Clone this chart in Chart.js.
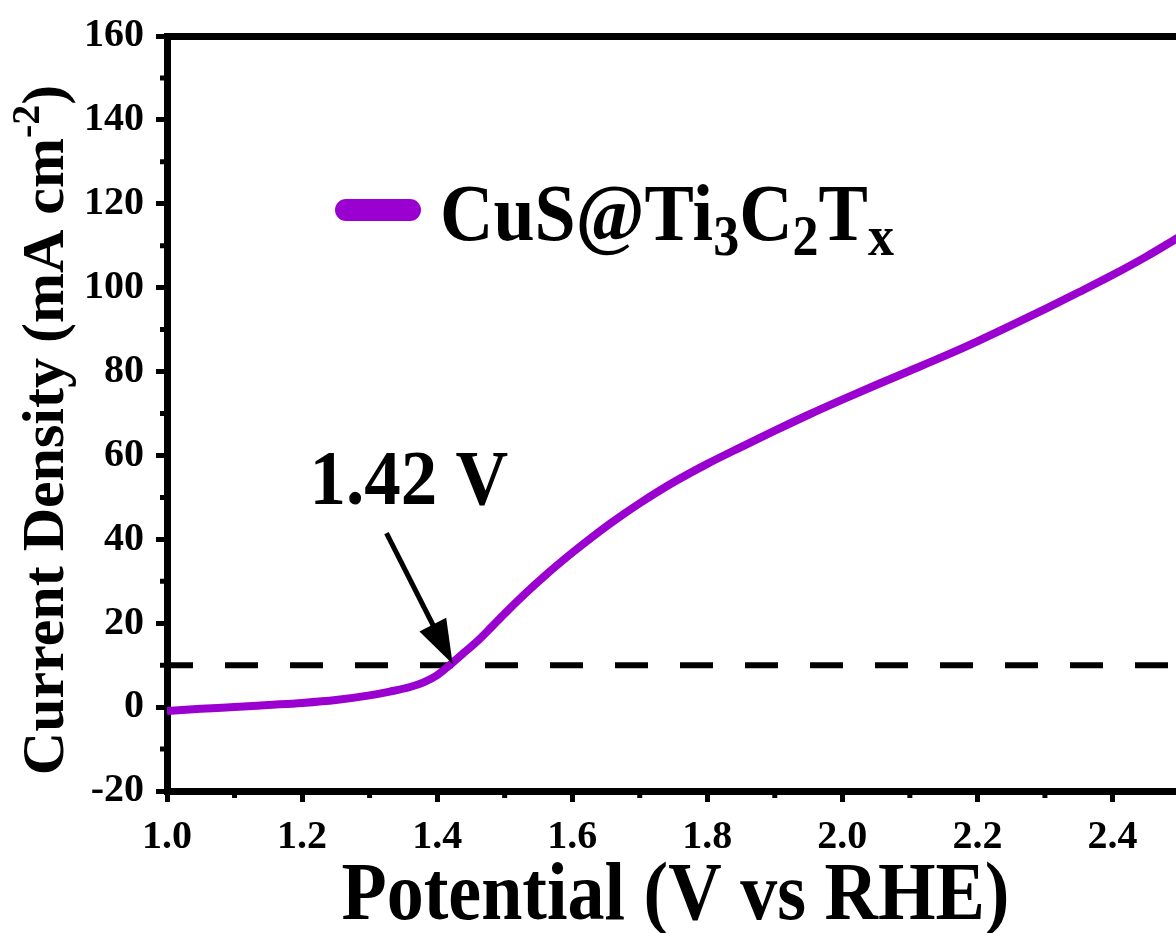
<!DOCTYPE html>
<html>
<head>
<meta charset="utf-8">
<title>CuS@Ti3C2Tx LSV</title>
<script src="https://cdn.jsdelivr.net/npm/chart.js@4.4.0/dist/chart.umd.min.js"></script>
<style>
  html, body { margin: 0; padding: 0; background: #fff; overflow: hidden; }
  #wrap { width: 1200px; height: 933px; }
</style>
</head>
<body>
<div id="wrap"><canvas id="lsvChart" width="1200" height="933"></canvas></div>
<script>
// polarisation curve (V vs RHE / mA cm-2)
const potential = [1.00, 1.05, 1.10, 1.15, 1.20, 1.25, 1.30, 1.33, 1.36, 1.38, 1.40, 1.42, 1.44, 1.46, 1.48, 1.50,
  1.53, 1.56, 1.60, 1.63, 1.66, 1.70, 1.75, 1.80, 1.85, 1.90, 1.95, 2.00, 2.05, 2.10, 2.15, 2.20, 2.25, 2.30,
  2.35, 2.40, 2.45, 2.50];
const currentDensity = [-0.9, -0.4, 0.0, 0.5, 1.0, 1.7, 2.8, 3.7, 4.8, 5.9, 7.6, 10.2, 13.0, 15.8, 19.0, 22.3,
  27.0, 31.4, 36.8, 40.6, 44.2, 48.6, 53.6, 58.0, 62.0, 65.9, 69.7, 73.3, 76.8, 80.2, 83.6, 87.2, 91.0, 94.9,
  98.9, 103.0, 107.4, 112.2];

// 10 mA cm-2 benchmark line
const refPotential = [1.0, 2.5];
const refCurrent = [10, 10];

// onset marker: arrow tail / head and its label
const onsetLabel = '1.42 V';
const arrowTail = [1.325, 41.5];
const arrowHead = [1.423, 10.3];
const labelAt = [1.358, 48.5];

const xTickValues = [1.0, 1.2, 1.4, 1.6, 1.8, 2.0, 2.2, 2.4];
const xMinorValues = [1.1, 1.3, 1.5, 1.7, 1.9, 2.1, 2.3, 2.5];
const yTickValues = [-20, 0, 20, 40, 60, 80, 100, 120, 140, 160];
const yMinorValues = [-10, 10, 30, 50, 70, 90, 110, 130, 150];

const seriesName = 'CuS@Ti3C2Tx';
const curveColor = '#9a00d0';
const SERIF = "'Liberation Serif', 'Times New Roman', serif";

// draws a run of text pieces (sub/superscripts via dy), stretched vertically by sy
const drawRich = (ctx, parts, x, y, sy = 1) => {
  ctx.save();
  ctx.translate(x, y);
  ctx.scale(1, sy);
  let cx = 0;
  parts.forEach(p => {
    ctx.font = `bold ${p.size}px ${SERIF}`;
    ctx.fillText(p.t, cx, p.dy || 0);
    cx += ctx.measureText(p.t).width;
  });
  ctx.restore();
};
const richWidth = (ctx, parts) => parts.reduce((w, p) => {
  ctx.font = `bold ${p.size}px ${SERIF}`;
  return w + ctx.measureText(p.t).width;
}, 0);

const decorPlugin = {
  id: 'decor',
  afterDatasetsDraw(chart) {
    const { ctx, chartArea, scales: { x, y } } = chart;
    ctx.save();
    // minor ticks
    ctx.strokeStyle = '#000';
    ctx.lineWidth = 5;
    ctx.beginPath();
    xMinorValues.forEach(v => {
      const px = x.getPixelForValue(v);
      ctx.moveTo(px, chartArea.bottom);
      ctx.lineTo(px, chartArea.bottom + 7);
    });
    yMinorValues.forEach(v => {
      const py = y.getPixelForValue(v);
      ctx.moveTo(chartArea.left, py);
      ctx.lineTo(chartArea.left - 7, py);
    });
    ctx.stroke();

    // arrow pointing at the onset
    const x0 = x.getPixelForValue(arrowTail[0]), y0 = y.getPixelForValue(arrowTail[1]);
    const x1 = x.getPixelForValue(arrowHead[0]), y1 = y.getPixelForValue(arrowHead[1]);
    const ang = Math.atan2(y1 - y0, x1 - x0);
    const headLen = 44, headW = 15;
    ctx.lineWidth = 5;
    ctx.beginPath();
    ctx.moveTo(x0, y0);
    ctx.lineTo(x1 - Math.cos(ang) * headLen * 0.8, y1 - Math.sin(ang) * headLen * 0.8);
    ctx.stroke();
    ctx.fillStyle = '#000';
    ctx.beginPath();
    ctx.moveTo(x1, y1);
    ctx.lineTo(x1 - Math.cos(ang) * headLen + Math.sin(ang) * headW, y1 - Math.sin(ang) * headLen - Math.cos(ang) * headW);
    ctx.lineTo(x1 - Math.cos(ang) * headLen - Math.sin(ang) * headW, y1 - Math.sin(ang) * headLen + Math.cos(ang) * headW);
    ctx.closePath();
    ctx.fill();

    ctx.textBaseline = 'alphabetic';
    ctx.textAlign = 'left';
    const lblParts = [{ t: onsetLabel, size: 73 }];
    drawRich(ctx, lblParts, x.getPixelForValue(labelAt[0]) - richWidth(ctx, lblParts) / 2,
      y.getPixelForValue(labelAt[1]), 1.06);

    // legend
    ctx.strokeStyle = curveColor;
    ctx.lineCap = 'round';
    ctx.lineWidth = 22;
    ctx.beginPath();
    ctx.moveTo(346, 210);
    ctx.lineTo(410, 210);
    ctx.stroke();
    drawRich(ctx, [
      { t: 'CuS@Ti', size: 74 }, { t: '3', size: 52, dy: 14 },
      { t: 'C', size: 74 }, { t: '2', size: 52, dy: 14 },
      { t: 'T', size: 74 }, { t: 'x', size: 52, dy: 14 }
    ], 440, 240, 1.1);

    // axis titles
    const xParts = [{ t: 'Potential (V vs RHE)', size: 74 }];
    drawRich(ctx, xParts, (chartArea.left + chartArea.right) / 2 + 2 - richWidth(ctx, xParts) / 2, 919, 1.12);

    const yParts = [
      { t: 'Current Density (mA cm', size: 60 }, { t: '-2', size: 40, dy: -24 }, { t: ')', size: 60 }
    ];
    ctx.translate(63, 430);
    ctx.rotate(-Math.PI / 2);
    drawRich(ctx, yParts, -richWidth(ctx, yParts) / 2, 0);
    ctx.restore();
  }
};

const tickFont = { family: SERIF, size: 40, weight: 'bold' };

new Chart(document.getElementById('lsvChart'), {
  type: 'line',
  data: {
    datasets: [{
      label: seriesName,
      data: potential.map((v, i) => ({ x: v, y: currentDensity[i] })),
      borderColor: curveColor,
      borderWidth: 8,
      pointRadius: 0,
      cubicInterpolationMode: 'monotone',
      order: 1
    }, {
      label: '10 mA',
      data: refPotential.map((v, i) => ({ x: v, y: refCurrent[i] })),
      borderColor: '#000',
      borderWidth: 6,
      borderDash: [33, 32],
      borderDashOffset: 7,
      pointRadius: 0,
      order: 2
    }]
  },
  options: {
    responsive: false,
    animation: false,
    layout: { padding: { top: 31, right: 20, left: 0, bottom: 0 } },
    plugins: { legend: { display: false }, tooltip: { enabled: false } },
    scales: {
      x: {
        type: 'linear', position: 'bottom', min: 1.0, max: 2.5,
        afterBuildTicks: s => { s.ticks = xTickValues.map(v => ({ value: v })); },
        afterFit: s => { s.height = 142; },
        ticks: { font: tickFont, color: '#000', padding: 12, maxRotation: 0, callback: v => v.toFixed(1) },
        grid: { drawOnChartArea: false, tickLength: 11, tickWidth: 5, tickColor: '#000' },
        border: { display: true, width: 7, color: '#000' }
      },
      xTop: {
        type: 'linear', position: 'top', min: 1.0, max: 2.5,
        afterFit: s => { s.height = 0; },
        ticks: { display: false },
        grid: { display: false },
        border: { display: true, width: 7, color: '#000' }
      },
      y: {
        type: 'linear', position: 'left', min: -20, max: 160,
        afterBuildTicks: s => { s.ticks = yTickValues.map(v => ({ value: v })); },
        afterFit: s => { s.width = 167; },
        ticks: { font: tickFont, color: '#000', padding: 12 },
        grid: { drawOnChartArea: false, tickLength: 11, tickWidth: 5, tickColor: '#000' },
        border: { display: true, width: 7, color: '#000' }
      },
      yRight: {
        type: 'linear', position: 'right', min: -20, max: 160,
        afterFit: s => { s.width = 0; },
        ticks: { display: false },
        grid: { display: false },
        border: { display: true, width: 7, color: '#000' }
      }
    }
  },
  plugins: [decorPlugin]
});
</script>
</body>
</html>
